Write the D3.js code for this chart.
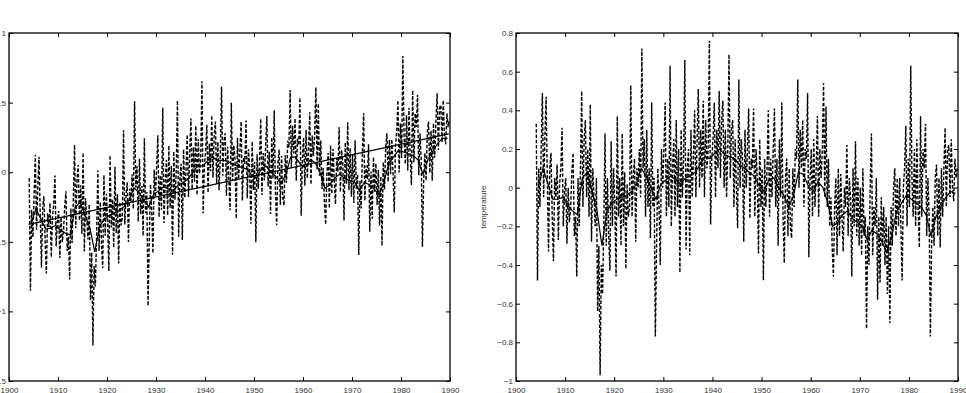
<!DOCTYPE html>
<html>
<head>
<meta charset="utf-8">
<script src="https://cdn.jsdelivr.net/npm/d3@7"></script>
<style>
body { margin: 0; background: #fff; overflow: hidden; }
svg { display: block; font-family: "Liberation Sans", Arial, sans-serif; }
</style>
</head>
<body>
<svg id="chart" width="966" height="393"></svg>
<script>
/*
Data
detrended: quarterly values (4 per year, 1904..1989), right panel scale
smooth: yearly running mean, right panel scale
left panel = detrended + linear trend
*/
const first_year = 1904;
const per_year = 4;

const detrended = [
    0.33, -0.48, 0.10, -0.10,   0.20, 0.49, -0.05, 0.25,   0.47, 0.05, -0.33, 0.10,   0.18, -0.15, -0.38, 0.05,
    -0.05, 0.12, -0.27, 0.02,   0.10, 0.31, -0.20, -0.02,  0.05, -0.29, 0.00, -0.18,  -0.10, 0.08, 0.18, -0.25,
    -0.15, -0.46, 0.05, -0.20,  0.10, 0.50, -0.10, 0.25,   0.35, -0.05, 0.20, -0.15,  0.43, -0.28, 0.10, -0.05,
    -0.20, 0.05, -0.64, -0.30,  -0.97, -0.40, -0.55, -0.20, 0.28, -0.30, 0.05, -0.25, -0.43, 0.24, -0.20, 0.10,
    -0.10, -0.46, 0.37, -0.15,  0.05, -0.30, 0.28, -0.20,  0.08, -0.42, 0.02, -0.15,  -0.10, 0.53, -0.15, 0.05,
    0.15, -0.28, 0.10, 0.00,    0.20, -0.05, 0.72, 0.10,   0.25, -0.15, 0.30, -0.10,  0.10, -0.26, 0.44, -0.10,
    0.05, -0.77, -0.30, 0.10,   -0.10, -0.40, 0.20, 0.00,  0.20, 0.44, -0.15, 0.15,   -0.10, 0.63, -0.20, 0.10,
    0.25, -0.15, 0.35, -0.10,   0.20, -0.44, 0.30, -0.05,  0.15, 0.66, -0.32, 0.10,   0.20, -0.35, 0.30, -0.05,
    0.15, 0.40, -0.05, 0.25,    0.51, 0.00, 0.30, 0.05,    0.45, -0.05, 0.35, 0.10,   0.20, 0.76, -0.19, 0.15,
    0.25, 0.44, -0.05, 0.30,    0.10, 0.50, 0.05, 0.35,    0.45, 0.00, 0.30, -0.05,   0.20, 0.69, 0.05, 0.30,
    0.35, -0.10, 0.25, 0.00,    -0.21, 0.56, 0.00, 0.25,   0.15, -0.28, 0.30, 0.00,   0.20, 0.41, -0.16, 0.15,
    0.10, 0.41, -0.15, 0.20,    0.05, -0.34, 0.25, -0.10,  0.10, -0.48, 0.15, -0.10,  0.10, 0.40, -0.15, 0.15,
    -0.05, 0.20, 0.41, -0.10,   0.15, -0.30, 0.25, -0.05,  0.44, -0.15, -0.39, 0.05,  0.15, -0.25, 0.10, -0.20,
    -0.26, 0.10, -0.10, 0.20,   0.15, 0.56, 0.00, 0.30,    0.10, 0.35, -0.10, 0.20,   0.15, 0.49, -0.36, 0.05,
    0.20, -0.15, 0.25, -0.10,   0.10, 0.37, -0.15, 0.20,   0.05, 0.20, 0.54, -0.05,   0.42, -0.10, 0.15, -0.20,
    -0.05, -0.30, -0.46, -0.10, 0.05, -0.35, 0.10, -0.25,  0.07, -0.15, -0.33, 0.00,  -0.10, 0.22, -0.25, 0.05,
    -0.05, -0.46, 0.10, -0.20,  0.24, -0.25, 0.05, -0.30,  0.00, -0.35, 0.10, -0.25,  -0.15, -0.73, -0.20, -0.40,
    0.00, 0.28, -0.35, -0.10,   -0.20, 0.05, -0.58, -0.15, -0.49, -0.05, -0.30, -0.10, -0.40, -0.15, -0.55, -0.20,
    -0.70, -0.10, -0.30, 0.00,  0.10, -0.25, 0.05, -0.20,  0.05, -0.20, -0.48, 0.00,  0.10, 0.32, -0.20, 0.15,
    -0.10, 0.63, 0.05, -0.15,   0.20, -0.20, 0.25, -0.10,  -0.31, 0.37, -0.15, 0.20,  0.10, 0.33, -0.25, 0.05,
    -0.15, -0.77, -0.30, -0.10, -0.30, 0.05, 0.12, -0.25,  0.05, -0.31, 0.10, -0.15,  0.10, 0.31, -0.10, 0.20,
    0.22, -0.05, 0.25, 0.00,    -0.07, 0.15, 0.05, 0.10
];

const smooth = [
    0.00, 0.10, 0.02, -0.06, -0.06, -0.05, -0.09, -0.12, -0.14, 0.05,
    0.08, -0.02, -0.12, -0.30, -0.12, -0.08, -0.06, -0.05, -0.04, -0.02,
    0.02, 0.10, 0.06, 0.00, -0.06, 0.02, 0.04, 0.06, 0.04, 0.02,
    0.05, 0.06, 0.08, 0.12, 0.16, 0.15, 0.18, 0.20, 0.17, 0.16,
    0.15, 0.12, 0.10, 0.08, 0.06, 0.01, -0.02, 0.04, 0.05, 0.00,
    -0.04, -0.10, -0.04, 0.08, 0.07, 0.01, -0.02, 0.03, 0.00, -0.08,
    -0.20, -0.18, -0.14, -0.12, -0.16, -0.18, -0.20, -0.27, -0.22, -0.24,
    -0.28, -0.33, -0.25, -0.12, -0.08, -0.04, -0.06, -0.08, -0.10, -0.14,
    -0.25, -0.15, -0.10, -0.05, -0.02, -0.03
];

const trend_years = [1904, 1989.75];
const trend_values = [-0.375, 0.275];

const x_ticks = [1900, 1910, 1920, 1930, 1940, 1950, 1960, 1970, 1980, 1990];
const left_ticks = [1, 0.5, 0, -0.5, -1, -1.5];
const right_ticks = [0.8, 0.6, 0.4, 0.2, 0, -0.2, -0.4, -0.6, -0.8, -1];
const y_label = "temperature";

/*
Build series
*/
const trend = d3.scaleLinear().domain(trend_years).range(trend_values);

var raw_right = detrended.map((v, i) => ({ t: first_year + (i + 0.5) / per_year, v: v }));
var raw_left = raw_right.map(d => ({ t: d.t, v: d.v + trend(d.t) }));
var smooth_right = smooth.map((v, i) => ({ t: first_year + i + 0.5, v: v }));
var smooth_left = smooth_right.map(d => ({ t: d.t, v: d.v + trend(d.t) }));
var trend_line = trend_years.map(t => ({ t: t, v: trend(t) }));

const svg = d3.select("#chart");
const fmt = v => (v < 0 ? "\u2212" : "") + Math.abs(v);

function draw_panel(opts) {
    var x = d3.scaleLinear().domain([1900, 1990]).range([opts.x0, opts.x1]);
    var y = d3.scaleLinear().domain(opts.domain).range([opts.y1, opts.y0]);
    var g = svg.append("g");

    var clip_id = "clip" + opts.x0;
    g.append("clipPath").attr("id", clip_id)
        .append("rect")
        .attr("x", opts.x0).attr("y", opts.y0)
        .attr("width", opts.x1 - opts.x0).attr("height", opts.y1 - opts.y0);

    var line = d3.line().x(d => x(d.t)).y(d => y(d.v));
    var plot = g.append("g").attr("clip-path", `url(#${clip_id})`);

    plot.append("path").datum(opts.raw)
        .attr("d", line)
        .attr("fill", "none").attr("stroke", "#000")
        .attr("stroke-width", 1.4).attr("stroke-dasharray", "3.5,1.8");

    plot.append("path").datum(opts.smooth)
        .attr("d", line)
        .attr("fill", "none").attr("stroke", "#000")
        .attr("stroke-width", 1.2);

    if (opts.trend) {
        plot.append("path").datum(opts.trend)
            .attr("d", line)
            .attr("fill", "none").attr("stroke", "#000")
            .attr("stroke-width", 1.2);
    }

    // axes, ticks pointing inward on all four sides
    var tk = 4;
    g.append("g").attr("transform", `translate(0,${opts.y1})`)
        .call(d3.axisBottom(x).tickValues(x_ticks).tickSizeInner(-tk).tickSizeOuter(0).tickPadding(6).tickFormat(d3.format("d")));
    g.append("g").attr("transform", `translate(0,${opts.y0})`)
        .call(d3.axisTop(x).tickValues(x_ticks).tickSizeInner(-tk).tickSizeOuter(0).tickFormat(""));
    g.append("g").attr("transform", `translate(${opts.x0},0)`)
        .call(d3.axisLeft(y).tickValues(opts.ticks).tickSizeInner(-tk).tickSizeOuter(0).tickPadding(3).tickFormat(fmt));
    g.append("g").attr("transform", `translate(${opts.x1},0)`)
        .call(d3.axisRight(y).tickValues(opts.ticks).tickSizeInner(-tk).tickSizeOuter(0).tickFormat(""));

    g.selectAll(".domain").remove();
    g.selectAll(".tick line").attr("stroke", "#000");
    g.selectAll(".tick text").attr("fill", "#333").style("font-size", "8px")
        .style("font-family", "'Liberation Sans', Arial, sans-serif");

    g.append("rect")
        .attr("x", opts.x0).attr("y", opts.y0)
        .attr("width", opts.x1 - opts.x0).attr("height", opts.y1 - opts.y0)
        .attr("fill", "none").attr("stroke", "#000").attr("stroke-width", 1.3);

    if (opts.label) {
        g.append("text")
            .attr("transform", `translate(${opts.x0 - 30},${(opts.y0 + opts.y1) / 2}) rotate(-90)`)
            .attr("text-anchor", "middle")
            .attr("fill", "#333")
            .style("font-size", "8px")
            .text(opts.label);
    }
}

/*
Left: data with linear trend
*/
draw_panel({
    x0: 9, x1: 450, y0: 33, y1: 381,
    domain: [-1.5, 1], ticks: left_ticks,
    raw: raw_left, smooth: smooth_left, trend: trend_line
});

/*
Right: detrended
*/
draw_panel({
    x0: 516, x1: 958, y0: 33, y1: 381,
    domain: [-1, 0.8], ticks: right_ticks,
    raw: raw_right, smooth: smooth_right, label: y_label
});
</script>
</body>
</html>
